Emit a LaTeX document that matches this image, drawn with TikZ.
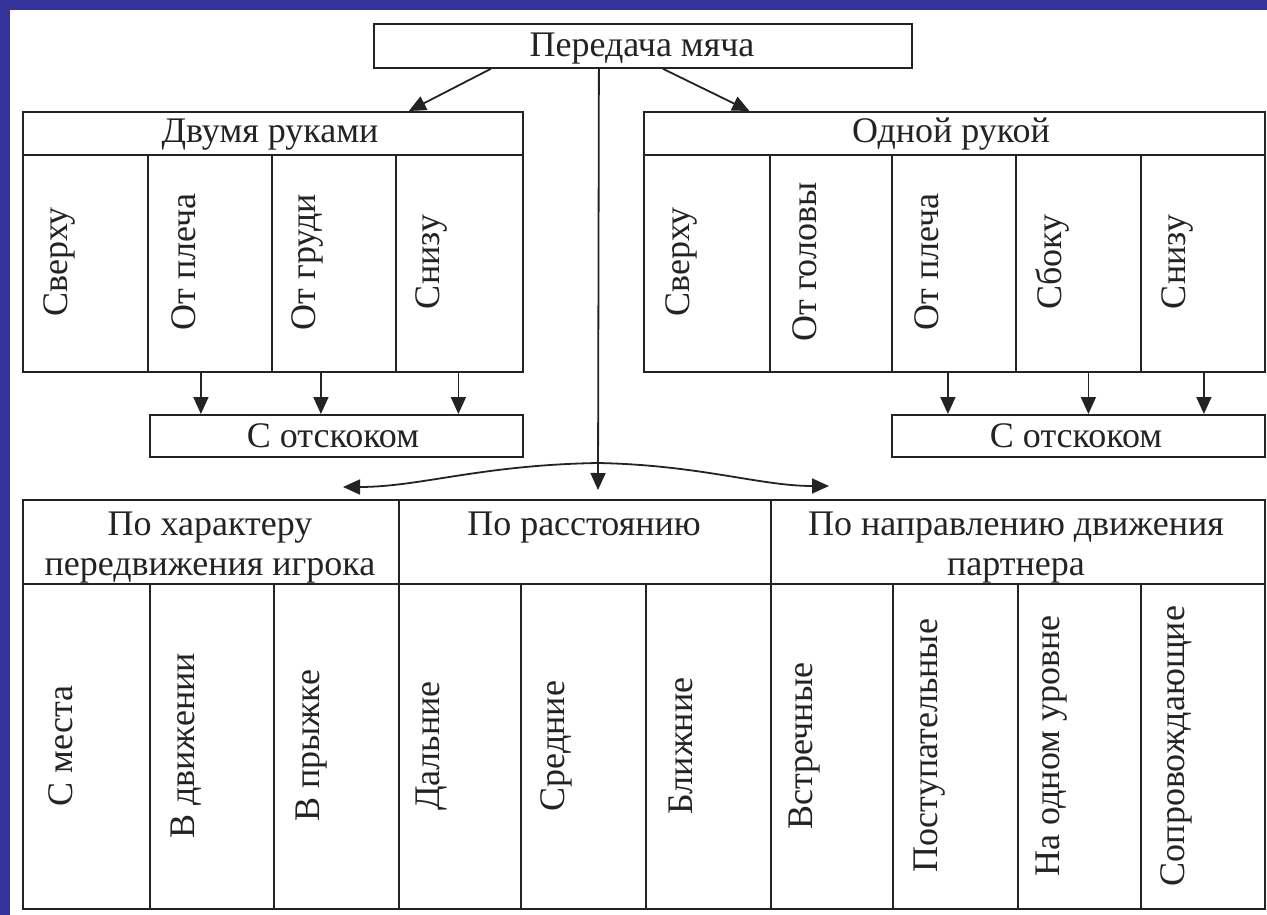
\documentclass[tikz,border=0pt]{standalone}
\usepackage{fontspec}
\setmainfont{Liberation Serif}
\usetikzlibrary{arrows.meta}
\definecolor{bord}{RGB}{51,51,153}
\definecolor{ink}{RGB}{35,35,35}
\begin{document}
\begin{tikzpicture}[x=1pt,y=-1pt,
  box/.style={draw=ink, line width=1.8pt, inner sep=0pt, anchor=north west},
  txt/.style={text=ink, font=\fontsize{36}{40}\selectfont, inner sep=0pt, anchor=base},
  vtxt/.style={text=ink, font=\fontsize{36}{40}\selectfont, inner sep=0pt, rotate=90, anchor=center},
  arr/.style={draw=ink, line width=1.8pt, -{Triangle[width=15pt,length=17pt]}},
]
\fill[bord] (0,0) rectangle (1267,915);
\fill[white] (10,10) rectangle (1267,915);
\useasboundingbox (0,0) rectangle (1267,915);

% top box
\node[box, minimum width=538pt, minimum height=44pt] (top) at (373,23) {};
\node[txt] (ttop) at (642,57) {Передача мяча};

% left group
\node[box, minimum width=500pt, minimum height=43pt] (lh) at (22,111) {};
\node[txt] (tlh) at (270,143) {Двумя руками};
\node[box, minimum width=125pt, minimum height=217pt] (lc1) at (22,154) {};
\node[box, minimum width=124pt, minimum height=217pt] (lc2) at (147,154) {};
\node[box, minimum width=124pt, minimum height=217pt] (lc3) at (271,154) {};
\node[box, minimum width=127pt, minimum height=217pt] (lc4) at (395,154) {};
\node[vtxt] (tlc1) at (59,262) {Сверху};
\node[vtxt] (tlc2) at (184,262) {От плеча};
\node[vtxt] (tlc3) at (307,262) {От груди};
\node[vtxt] (tlc4) at (431,262) {Снизу};
\node[box, minimum width=373pt, minimum height=42pt] (lb) at (149,414) {};
\node[txt] (tlb) at (333,447) {С отскоком};

% right group
\node[box, minimum width=621pt, minimum height=43pt] (rh) at (643,111) {};
\node[txt] (trh) at (951,143) {Одной рукой};
\node[box, minimum width=126pt, minimum height=217pt] (rc1) at (643,154) {};
\node[box, minimum width=122pt, minimum height=217pt] (rc2) at (769,154) {};
\node[box, minimum width=124pt, minimum height=217pt] (rc3) at (891,154) {};
\node[box, minimum width=125pt, minimum height=217pt] (rc4) at (1015,154) {};
\node[box, minimum width=124pt, minimum height=217pt] (rc5) at (1140,154) {};
\node[vtxt] (trc1) at (681,262) {Сверху};
\node[vtxt] (trc2) at (805,262) {От головы};
\node[vtxt] (trc3) at (927,262) {От плеча};
\node[vtxt] (trc4) at (1052,262) {Сбоку};
\node[vtxt] (trc5) at (1177,262) {Снизу};
\node[box, minimum width=373pt, minimum height=42pt] (rb) at (891,414) {};
\node[txt] (trb) at (1076,447) {С отскоком};

% bottom table
\node[box, minimum width=376pt, minimum height=84pt] (bh1) at (22,499) {};
\node[box, minimum width=372pt, minimum height=84pt] (bh2) at (398,499) {};
\node[box, minimum width=494pt, minimum height=84pt] (bh3) at (770,499) {};
\node[txt] (tbh1a) at (210,535) {По характеру};
\node[txt] (tbh1b) at (210,575) {передвижения игрока};
\node[txt] (tbh2) at (584,535) {По расстоянию};
\node[txt] (tbh3a) at (1016,535) {По направлению движения};
\node[txt] (tbh3b) at (1016,575) {партнера};

\node[box, minimum width=127pt, minimum height=325pt] (bc1) at (22,583) {};
\node[box, minimum width=124pt, minimum height=325pt] (bc2) at (149,583) {};
\node[box, minimum width=125pt, minimum height=325pt] (bc3) at (273,583) {};
\node[box, minimum width=122pt, minimum height=325pt] (bc4) at (398,583) {};
\node[box, minimum width=125pt, minimum height=325pt] (bc5) at (520,583) {};
\node[box, minimum width=125pt, minimum height=325pt] (bc6) at (645,583) {};
\node[box, minimum width=122pt, minimum height=325pt] (bc7) at (770,583) {};
\node[box, minimum width=125pt, minimum height=325pt] (bc8) at (892,583) {};
\node[box, minimum width=123pt, minimum height=325pt] (bc9) at (1017,583) {};
\node[box, minimum width=124pt, minimum height=325pt] (bc10) at (1140,583) {};
\node[vtxt] (tbc1) at (61,746) {С места};
\node[vtxt] (tbc2) at (186,746) {В движении};
\node[vtxt] (tbc3) at (312,746) {В прыжке};
\node[vtxt] (tbc4) at (432,746) {Дальние};
\node[vtxt] (tbc5) at (556,746) {Средние};
\node[vtxt] (tbc6) at (681,746) {Ближние};
\node[vtxt] (tbc7) at (805,746) {Встречные};
\node[vtxt] (tbc8) at (930,746) {Поступательные};
\node[vtxt] (tbc9) at (1052,746) {На одном уровне};
\node[vtxt] (tbc10) at (1176,746) {Сопровождающие};

% connectors
\draw[arr] ([xshift=-152pt]top.south) -- ([xshift=136pt]lh.north);
\draw[arr] ([xshift=20pt]top.south) -- ([xshift=-205pt]rh.north);

\draw[arr] ([xshift=-9pt]lc2.south) -- ([xshift=-9pt]lc2.south |- lb.north);
\draw[arr] ([xshift=-13pt]lc3.south) -- ([xshift=-13pt]lc3.south |- lb.north);
\draw[arr] ([xshift=-1pt]lc4.south) -- ([xshift=-1pt]lc4.south |- lb.north);
\draw[arr] ([xshift=-6pt]rc3.south) -- ([xshift=-6pt]rc3.south |- rb.north);
\draw[arr] ([xshift=10pt]rc4.south) -- ([xshift=10pt]rc4.south |- rb.north);
\draw[arr] ([xshift=1pt]rc5.south) -- ([xshift=1pt]rc5.south |- rb.north);

\coordinate (J) at (598,463);
\coordinate (Dn) at (598,490);
\coordinate (Lt) at (343,487);
\coordinate (Rt) at (829,486);
\draw[arr] ([xshift=-44pt]top.south) -- (Dn);
\draw[arr] (J) .. controls (480,465) and (420,487) .. (Lt);
\draw[arr] (J) .. controls (700,465) and (760,486) .. (Rt);
\end{tikzpicture}
\end{document}
